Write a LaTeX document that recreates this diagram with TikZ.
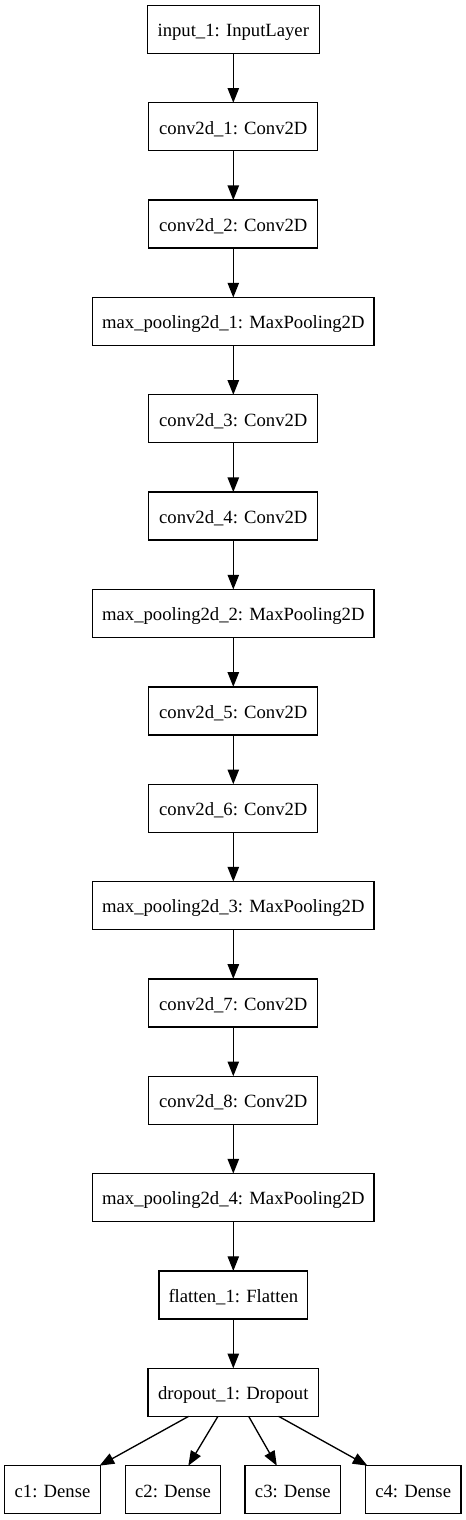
\documentclass[tikz,border=0pt]{standalone}
\usepackage{fontspec}
\setmainfont{Liberation Serif}
\usetikzlibrary{arrows.meta}
\begin{document}
\begin{tikzpicture}[x=0.75pt,y=-0.75pt,
  layer/.style={draw, line width=1pt, rectangle, inner sep=0pt, outer sep=0pt,
    minimum height=36pt, font=\fontsize{14pt}{16pt}\selectfont,
    text height=12pt, text depth=1pt},
  boxw/.style={minimum width=#1*0.75pt},
  arr/.style={-{Triangle[length=11pt,width=8.5pt]}, line width=1pt}]
\useasboundingbox (0,0) rectangle (466,1520);
\node[layer, boxw=172] (in) at (233.3,29.4) {input\_1: InputLayer};
\node[layer, boxw=169] (c2d1) at (233.3,126.75) {conv2d\_1: Conv2D};
\node[layer, boxw=169] (c2d2) at (233.3,224.1) {conv2d\_2: Conv2D};
\node[layer, boxw=281.5] (mp1) at (233.3,321.45) {max\_pooling2d\_1: MaxPooling2D};
\node[layer, boxw=169] (c2d3) at (233.3,418.8) {conv2d\_3: Conv2D};
\node[layer, boxw=169] (c2d4) at (233.3,516.15) {conv2d\_4: Conv2D};
\node[layer, boxw=281.5] (mp2) at (233.3,613.5) {max\_pooling2d\_2: MaxPooling2D};
\node[layer, boxw=169] (c2d5) at (233.3,710.85) {conv2d\_5: Conv2D};
\node[layer, boxw=169] (c2d6) at (233.3,808.2) {conv2d\_6: Conv2D};
\node[layer, boxw=281.5] (mp3) at (233.3,905.55) {max\_pooling2d\_3: MaxPooling2D};
\node[layer, boxw=169] (c2d7) at (233.3,1002.9) {conv2d\_7: Conv2D};
\node[layer, boxw=169] (c2d8) at (233.3,1100.25) {conv2d\_8: Conv2D};
\node[layer, boxw=281.5] (mp4) at (233.3,1197.6) {max\_pooling2d\_4: MaxPooling2D};
\node[layer, boxw=148.5] (fl) at (233.3,1294.95) {flatten\_1: Flatten};
\node[layer, boxw=170.3] (drop) at (233.3,1392.3) {dropout\_1: Dropout};
\node[layer, boxw=95.5] (d1) at (52.5,1489.65) {c1: Dense};
\node[layer, boxw=95.5] (d2) at (173,1489.65) {c2: Dense};
\node[layer, boxw=95.5] (d3) at (292.8,1489.65) {c3: Dense};
\node[layer, boxw=95.5] (d4) at (413.2,1489.65) {c4: Dense};
\foreach \a/\b in {in/c2d1, c2d1/c2d2, c2d2/mp1, mp1/c2d3, c2d3/c2d4, c2d4/mp2,
  mp2/c2d5, c2d5/c2d6, c2d6/mp3, mp3/c2d7, c2d7/c2d8, c2d8/mp4, mp4/fl, fl/drop}
  \draw[arr] (\a.south) -- (\b.north);
\draw[arr] ([xshift=-33.5pt]drop.south) -- ([xshift=-0.5pt]d1.north east);
\draw[arr] ([xshift=-11.5pt]drop.south) -- ([xshift=11.5pt]d2.north);
\draw[arr] ([xshift=11.5pt]drop.south) -- ([xshift=-12pt]d3.north);
\draw[arr] ([xshift=34pt]drop.south) -- ([xshift=1.5pt]d4.north west);
\end{tikzpicture}
\end{document}
